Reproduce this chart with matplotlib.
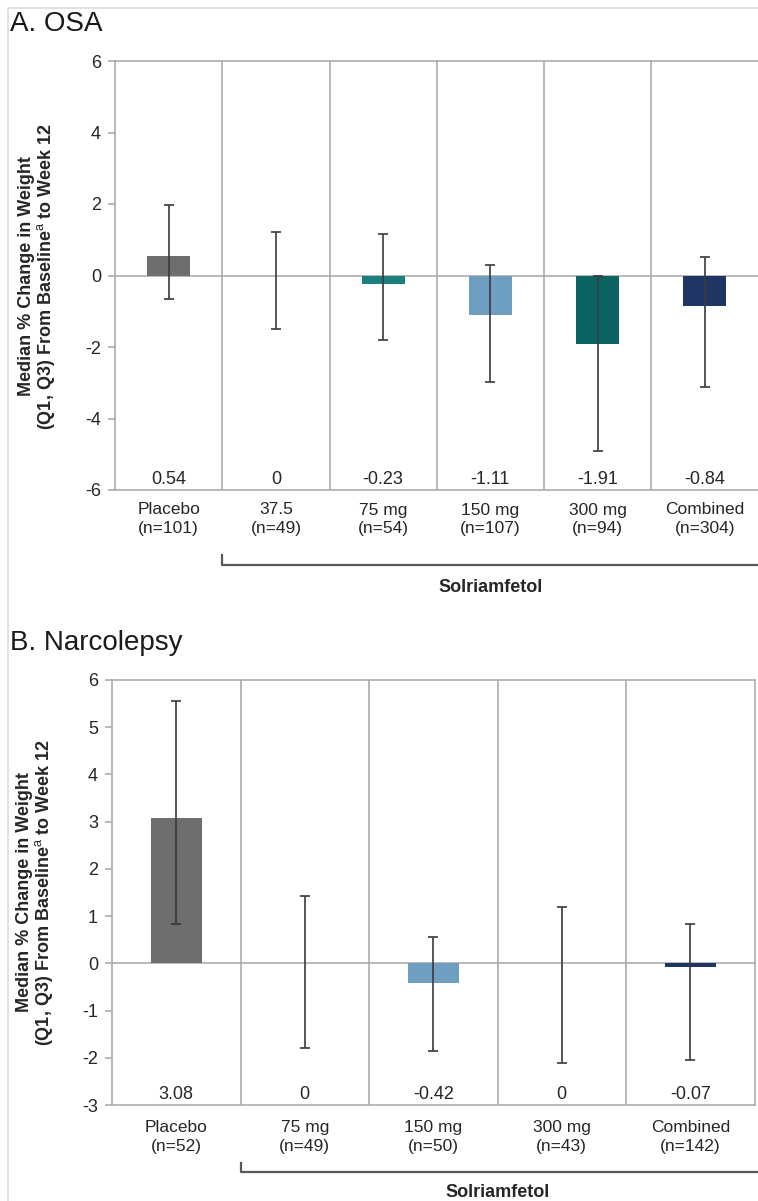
import matplotlib
matplotlib.use("Agg")
import matplotlib.pyplot as plt
import matplotlib.transforms as mtransforms
from matplotlib.lines import Line2D

# A. OSA
osa_groups = ["Placebo\n(n=101)", "37.5\n(n=49)", "75 mg\n(n=54)", "150 mg\n(n=107)", "300 mg\n(n=94)", "Combined\n(n=304)"]
osa_median = [0.54, 0, -0.23, -1.11, -1.91, -0.84]
osa_q1 = [-0.65, -1.50, -1.80, -2.97, -4.92, -3.11]
osa_q3 = [1.97, 1.23, 1.17, 0.30, 0.0, 0.53]
osa_labels = ["0.54", "0", "-0.23", "-1.11", "-1.91", "-0.84"]

# B. Narcolepsy
narc_groups = ["Placebo\n(n=52)", "75 mg\n(n=49)", "150 mg\n(n=50)", "300 mg\n(n=43)", "Combined\n(n=142)"]
narc_median = [3.08, 0, -0.42, 0, -0.07]
narc_q1 = [0.83, -1.80, -1.85, -2.12, -2.05]
narc_q3 = [5.55, 1.42, 0.55, 1.19, 0.83]
narc_labels = ["3.08", "0", "-0.42", "0", "-0.07"]

GRAY = "#6e6e6e"
TEAL = "#1b7f7f"
LBLUE = "#6f9fc0"
DTEAL = "#0c6462"
NAVY = "#1f3564"
osa_colors = [GRAY, TEAL, TEAL, LBLUE, DTEAL, NAVY]
narc_colors = [GRAY, TEAL, LBLUE, DTEAL, NAVY]

GRID = "#a6a6a6"
TXT = "#262626"

plt.rcParams["font.family"] = ["Liberation Sans", "DejaVu Sans"]
plt.rcParams["mathtext.fontset"] = "custom"
plt.rcParams["mathtext.rm"] = "Liberation Sans"

W, H = 758, 1201


def panel(fig, rect, groups, median, q1, q3, labels, colors, ylim, yticks,
          xpad, brk_y, brk_top, brk_right, sol_y):
    ax = fig.add_axes(rect)
    n = len(groups)
    x = list(range(n))
    ax.bar(x, median, width=0.4, color=colors, linewidth=0, zorder=3)
    lo = [m - a for m, a in zip(median, q1)]
    hi = [b - m for m, b in zip(median, q3)]
    ax.errorbar(x, median, yerr=[lo, hi], fmt="none", ecolor="#3a3a3a",
                elinewidth=1.2, capsize=3.5, capthick=1.2, zorder=4)
    ax.axhline(0, color=GRID, lw=1.1, zorder=2)
    for k in range(n - 1):
        ax.axvline(k + 0.5, color=GRID, lw=1.1, zorder=1)
    ax.set_xlim(-0.5, n - 0.5)
    ax.set_ylim(*ylim)
    ax.set_yticks(yticks)
    ax.set_yticklabels([str(t) for t in yticks])
    for s in ax.spines.values():
        s.set_color(GRID)
        s.set_linewidth(1.1)
    ax.tick_params(axis="y", colors=GRID, labelcolor=TXT, labelsize=13,
                   length=5, width=1.1, pad=5)
    ax.set_xticks(x)
    ax.set_xticklabels(groups, fontsize=12.5, color=TXT, linespacing=1.3)
    ax.tick_params(axis="x", length=0, pad=xpad)

    for xi, lab in zip(x, labels):
        ax.annotate(lab, (xi, ylim[0]), xytext=(0, 4), textcoords="offset points",
                    ha="center", va="baseline", fontsize=13, color=TXT)

    # bracket under the Solriamfetol groups
    tr = mtransforms.blended_transform_factory(ax.transData, ax.transAxes)
    ax.plot([0.5, 0.5, brk_right], [brk_top, brk_y, brk_y], color="#595959",
            lw=1.6, transform=tr, clip_on=False)
    ax.text((0.5 + n - 0.5) / 2, sol_y, "Solriamfetol", transform=tr,
            ha="center", va="center", fontsize=13, fontweight="bold", color=TXT)
    return ax


def main():
    fig = plt.figure(figsize=(W / 100, H / 100), dpi=100)

    # light frame, top and left edges only
    fig.lines.append(Line2D([8 / W, 8 / W, 1.0], [0.0, 1 - 8 / H, 1 - 8 / H],
                            transform=fig.transFigure, color="#dcdcdc", lw=1.2))

    axa = panel(fig, [115 / W, 1 - 490 / H, 643.5 / W, 429 / H],
                osa_groups, osa_median, osa_q1, osa_q3, osa_labels, osa_colors,
                (-6, 6), [-6, -4, -2, 0, 2, 4, 6], 9,
                -0.175, -0.151, 5.51, -0.228)
    axa.spines["right"].set_visible(False)
    axb = panel(fig, [112 / W, 1 - 1105 / H, 642.5 / W, 425 / H],
                narc_groups, narc_median, narc_q1, narc_q3, narc_labels, narc_colors,
                (-3, 6), [-3, -2, -1, 0, 1, 2, 3, 4, 5, 6], 11,
                -0.157, -0.1365, 4.53, -0.205)

    fig.text(10 / W, 1 - 24 / H, "A. OSA", fontsize=20, color="#1a1a1a",
             ha="left", va="center")
    fig.text(10 / W, 1 - 643 / H, "B. Narcolepsy", fontsize=20, color="#1a1a1a",
             ha="left", va="center")

    ylab = "Median % Change in Weight\n(Q1, Q3) From Baseline$^\\mathrm{a}$ to Week 12"
    fig.text(38 / W, 1 - 276 / H, ylab, rotation=90, ha="center", va="center",
             multialignment="center", fontsize=13, fontweight="bold",
             color=TXT, linespacing=1.0)
    fig.text(36 / W, 1 - 892 / H, ylab, rotation=90, ha="center", va="center",
             multialignment="center", fontsize=13, fontweight="bold",
             color=TXT, linespacing=1.0)

    fig.savefig("out.png", dpi=100)


if __name__ == "__main__":
    main()
